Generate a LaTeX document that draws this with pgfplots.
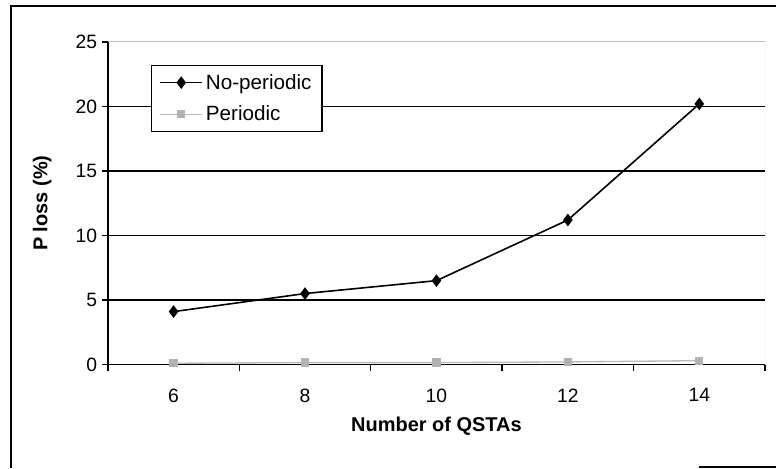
\documentclass[border=0pt]{standalone}
\usepackage{pgfplots}
\pgfplotsset{compat=1.18}
\usepackage{fontspec}
\setmainfont{Liberation Sans}
\begin{document}
\begin{tikzpicture}
\begin{axis}[
  scale only axis, width=493.5pt, height=242.25pt,
  xmin=5, xmax=15, ymin=0, ymax=25,
  axis x line*=bottom, axis y line*=left,
  axis line style={line width=1.3pt, -},
  xtick={6,8,10,12,14},
  minor xtick={5,7,9,11,13,15},
  ytick={0,5,...,25},
  tick align=outside,
  major tick length=4.5pt, minor tick length=4.5pt,
  tick style={black, line width=1pt},
  major x tick style={draw=none},
  extra y ticks={5,10,15,20},
  extra y tick labels={},
  extra y tick style={grid=major, major tick length=0pt},
  major grid style={black, line width=1.2pt},
  /pgf/number format/assume math mode=true,
  tick label style={font=\fontsize{14.5}{16}\selectfont},
  xticklabel style={yshift=-10pt},
  xlabel={\bfseries Number of QSTAs},
  ylabel={\bfseries P loss (\%)},
  label style={font=\fontsize{15}{17}\selectfont},
  xlabel style={at={(axis description cs:0.5,-0.19)}, anchor=center},
  ylabel style={at={(axis description cs:-0.1,0.5)}, anchor=center},
  legend style={at={(rel axis cs:0.065,0.929)}, anchor=north west, draw=black, line width=1pt,
    font=\fontsize{15.5}{17}\selectfont, row sep=7pt, inner xsep=6pt, inner ysep=4.5pt},
  legend cell align=left,
  legend image code/.code={
    \draw[mark repeat=2,mark phase=2,#1] plot coordinates {(0cm,0cm) (0.56cm,0cm) (1.12cm,0cm)};
  },
]
\draw[gray!50, line width=0.7pt] (rel axis cs:0,1) -- (rel axis cs:1,1) -- (rel axis cs:1,0);
\addplot[black, line width=1.2pt, mark=diamond*, mark size=3.8pt, mark options={solid, fill=black}]
  coordinates {(6,4.1) (8,5.5) (10,6.5) (12,11.2) (14,20.2)};
\addlegendentry{No-periodic}
\addplot[gray!55, line width=1pt, mark=square*, mark size=2.6pt, mark options={solid, fill=gray!60, draw=gray!60}]
  coordinates {(6,0.1) (8,0.15) (10,0.15) (12,0.2) (14,0.3)};
\addlegendentry{Periodic}
\end{axis}
\path ([xshift=-81pt,yshift=-78pt]current axis.south west) rectangle ([xshift=8.25pt,yshift=31.5pt]current axis.north east);
\draw[black, line width=1.5pt] ([xshift=-72.75pt,yshift=-77.5pt]current axis.south west) -- ([xshift=-72.75pt,yshift=27pt]current axis.north west) -- ([xshift=8.25pt,yshift=27pt]current axis.north east);
\draw[black, line width=1.2pt] ([xshift=-49.5pt,yshift=-77pt]current axis.south east) -- ([xshift=8.25pt,yshift=-77pt]current axis.south east);
\end{tikzpicture}
\end{document}
